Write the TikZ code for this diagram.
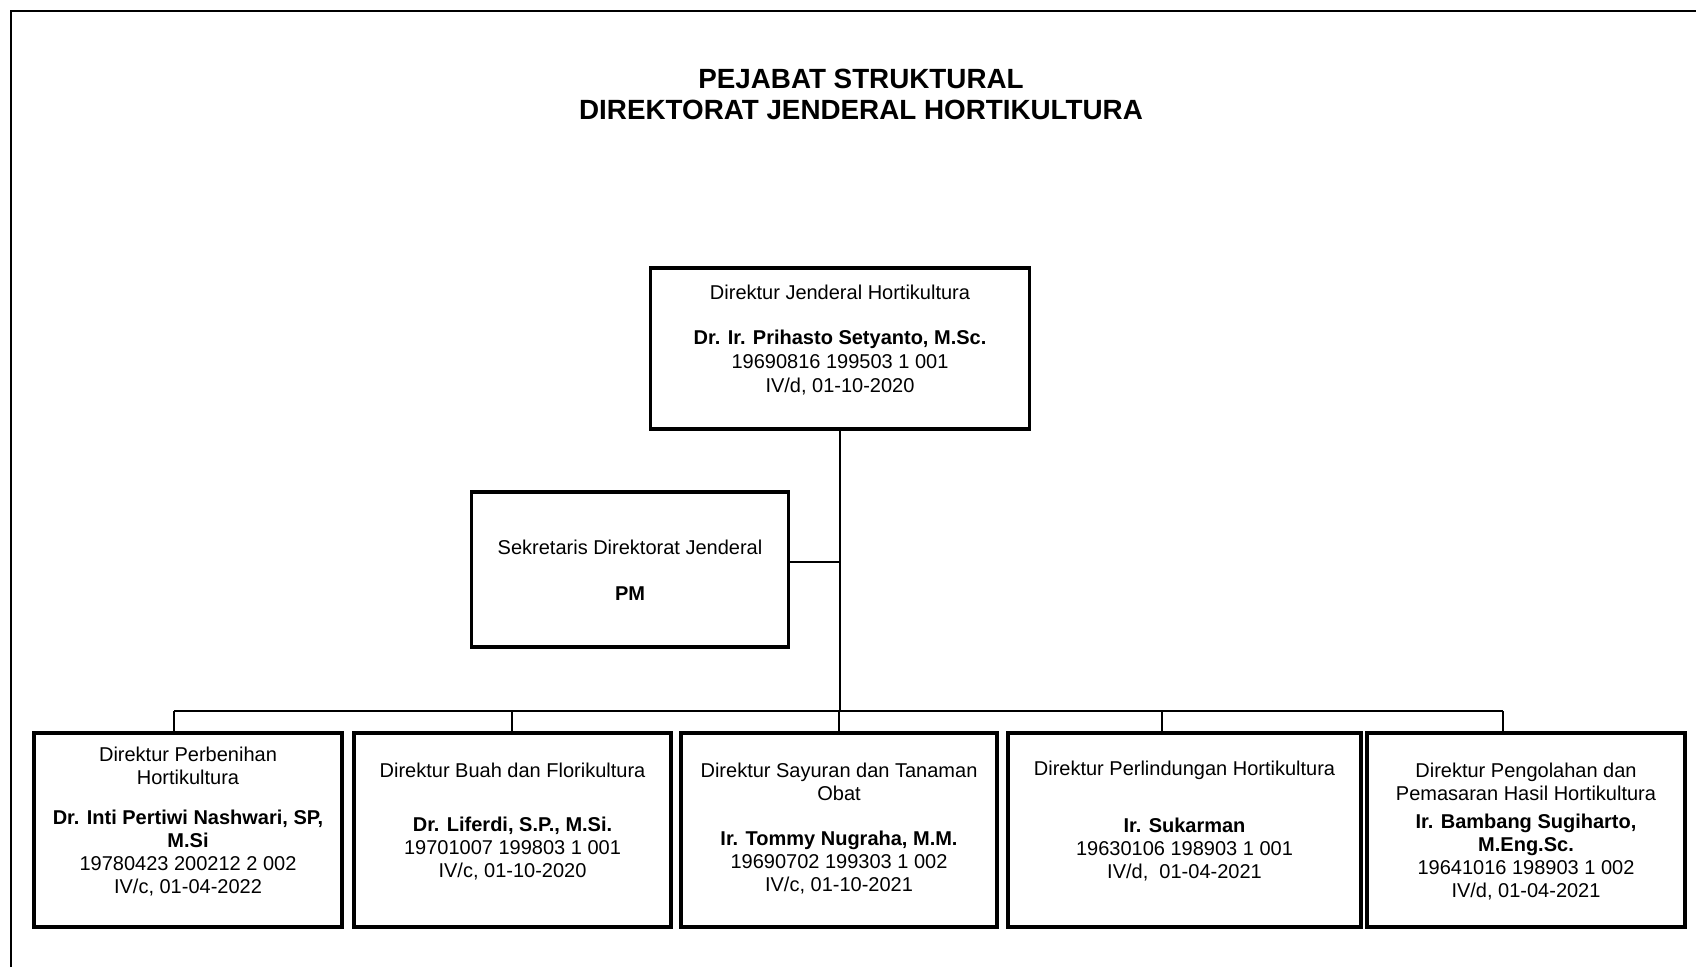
\documentclass[tikz,border=0pt]{standalone}
\usepackage{fontspec}
\setmainfont{Liberation Sans}

\tikzset{
	kotak/.style={draw,line width=3.2pt,inner sep=0pt,minimum height=194pt},
	isi/.style={anchor=north,align=center,inner sep=0pt,font=\fontsize{20}{23}\selectfont},
	garis/.style={line width=2.5pt},
	cabang/.style={line width=2pt}
}

\begin{document}
\begin{tikzpicture}[x=1pt,y=-1pt]
			\useasboundingbox (0,0) rectangle (1696,967);
			\fill[white] (0,0) rectangle (1696,967);
			\draw[line width=2pt] (11,967) -- (11,11) -- (1696,11);

			\node[font=\fontsize{27.8}{31}\selectfont\bfseries,align=center] (judul) at (861,94) {PEJABAT STRUKTURAL\\DIREKTORAT JENDERAL HORTIKULTURA};

			\node[kotak,minimum width=379pt,minimum height=161pt] (dirjen) at (840,348.5) {};
			\node[kotak,minimum width=317pt,minimum height=155pt] (sekre) at (630,569.5) {};
			\node[kotak,minimum width=308pt] (b1) at (188,830) {};
			\node[kotak,minimum width=317pt] (b2) at (512.5,830) {};
			\node[kotak,minimum width=316pt] (b3) at (839,830) {};
			\node[kotak,minimum width=353pt] (b4) at (1184.5,830) {};
			\node[kotak,minimum width=318pt] (b5) at (1526,830) {};

			\node[isi,font=\fontsize{20}{24}\selectfont] (t-dirjen) at (840,284.6) {Direktur Jenderal Hortikultura\\[21pt]\textbf{Dr. Ir. Prihasto Setyanto, M.Sc.}\\19690816 199503 1 001\\IV/d, 01-10-2020};
			\node[isi] (t-sekre) at (630,539.6) {Sekretaris Direktorat Jenderal\\[23pt]\textbf{PM}};
			\node[isi] (t-b1) at (188,746.6) {Direktur Perbenihan\\Hortikultura\\[17pt]\textbf{Dr. Inti Pertiwi Nashwari, SP,}\\\textbf{M.Si}\\19780423 200212 2 002\\IV/c, 01-04-2022};
			\node[isi] (t-b2) at (512.5,762.6) {Direktur Buah dan Florikultura\\[31pt]\textbf{Dr. Liferdi, S.P., M.Si.}\\19701007 199803 1 001\\IV/c, 01-10-2020};
			\node[isi] (t-b3) at (839,762.6) {Direktur Sayuran dan Tanaman\\Obat\\[22pt]\textbf{Ir. Tommy Nugraha, M.M.}\\19690702 199303 1 002\\IV/c, 01-10-2021};
			\node[isi] (t-b4) at (1184.5,760.6) {Direktur Perlindungan Hortikultura\\[34pt]\textbf{Ir. Sukarman}\\19630106 198903 1 001\\IV/d,\ \ 01-04-2021};
			\node[isi] (t-b5) at (1526,762.6) {Direktur Pengolahan dan\\Pemasaran Hasil Hortikultura\\[5pt]\textbf{Ir. Bambang Sugiharto,}\\\textbf{M.Eng.Sc.}\\19641016 198903 1 002\\IV/d, 01-04-2021};

			\coordinate (c1) at (174,711);
			\coordinate (c2) at (512,711);
			\coordinate (c3) at (839,711);
			\coordinate (c4) at (1162,711);
			\coordinate (c5) at (1503,711);
			\coordinate (s) at (0,562);

			\draw[garis] (dirjen.south) -- (dirjen.south |- c3);
			\draw[garis] (sekre.east |- s) -- (dirjen.south |- s);
			\draw[garis] (c1) -- (c5);
			\foreach \i in {1,...,5}
				\draw[cabang] (c\i) -- (c\i |- b\i.north);
		\end{tikzpicture}
\end{document}
